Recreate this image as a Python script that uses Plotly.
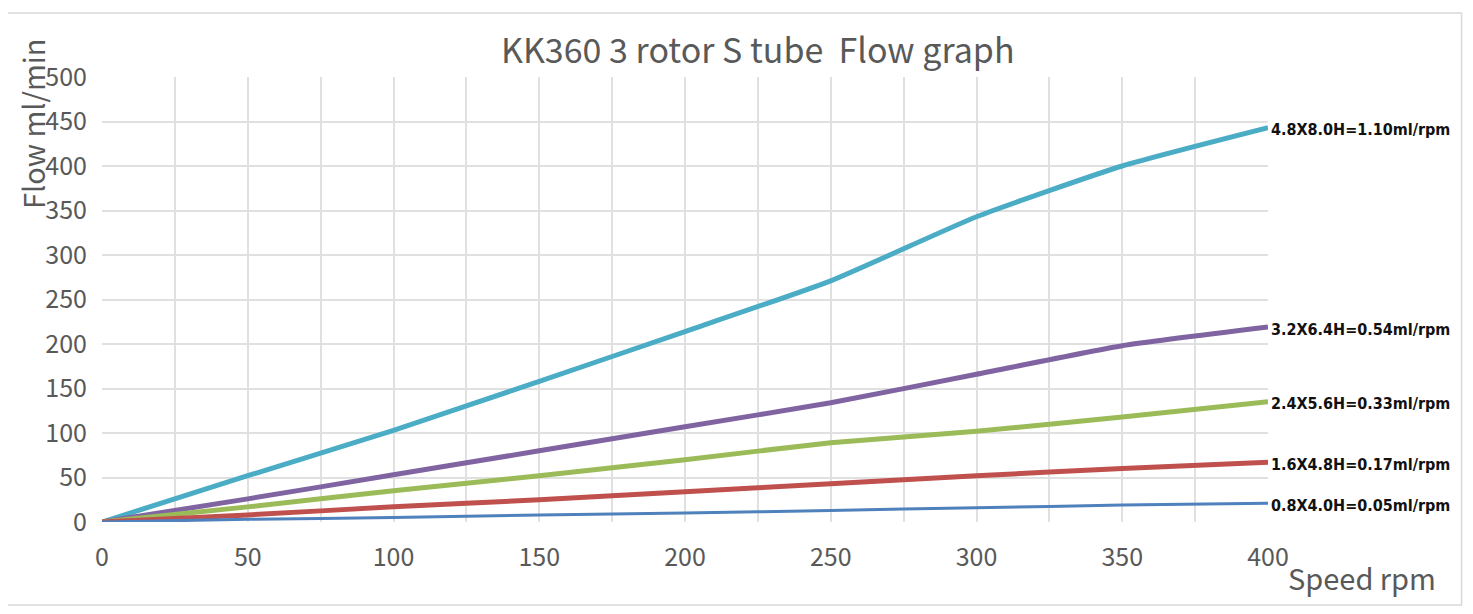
import plotly.graph_objects as go

speed = [0, 50, 100, 150, 200, 250, 300, 350, 400]

flow_48 = [0, 52, 103, 158, 214, 271, 343, 400, 443]
flow_32 = [0, 26, 53, 80, 107, 134, 166, 198, 219]
flow_24 = [0, 17, 35, 52, 70, 89, 102, 118, 135]
flow_16 = [0, 8, 17, 25, 34, 43, 52, 60, 67]
flow_08 = [0, 3, 5, 8, 10, 13, 16, 19, 21]

series_names = [
    "4.8X8.0H=1.10ml/rpm",
    "3.2X6.4H=0.54ml/rpm",
    "2.4X5.6H=0.33ml/rpm",
    "1.6X4.8H=0.17ml/rpm",
    "0.8X4.0H=0.05ml/rpm",
]
series_values = [flow_48, flow_32, flow_24, flow_16, flow_08]
colors = ["#4bacc6", "#8064a2", "#9bbb59", "#c0504d", "#4f81bd"]
widths = [5, 5, 5, 5, 3]

FONT = "Noto Sans CJK SC"
GRID = "#e0e0e0"

fig = go.Figure()
for name, vals, color, w in zip(series_names, series_values, colors, widths):
    fig.add_trace(go.Scatter(
        x=speed, y=vals, mode="lines", name=name,
        line=dict(color=color, width=w, shape="spline", smoothing=0.5),
    ))
    fig.add_annotation(
        x=speed[-1], y=vals[-1], text=f"<b>{name}</b>", showarrow=False,
        xanchor="left", xshift=1, yshift=-2,
        font=dict(family="DejaVu Sans Condensed", size=16, color="#111111"),
    )

fig.update_xaxes(
    range=[0, 400], dtick=50, showgrid=True, gridcolor=GRID, gridwidth=1.5,
    minor=dict(dtick=25, showgrid=True, gridcolor=GRID, gridwidth=1.5),
    zeroline=False, showline=False, ticks="", ticklabelstandoff=18,
    tickfont=dict(family=FONT, size=25, color="#595959"),
)
fig.update_yaxes(
    range=[0, 500], dtick=50, showgrid=True, gridcolor=GRID, gridwidth=1.5,
    zeroline=False, showline=False, ticks="", ticklabelstandoff=14,
    tickfont=dict(family=FONT, size=25, color="#595959"),
)

fig.add_annotation(
    xref="paper", yref="paper", x=-0.06, y=1.09, text="Flow ml/min", textangle=-90,
    showarrow=False, xanchor="center", yanchor="top",
    font=dict(family=FONT, size=29, color="#595959"),
)
fig.add_annotation(
    xref="paper", yref="paper", x=1.146, y=-0.072, text="Speed rpm",
    showarrow=False, xanchor="right", yanchor="top",
    font=dict(family=FONT, size=29, color="#595959"),
)

fig.add_shape(
    type="rect", xref="paper", yref="paper",
    x0=-0.082, x1=1.166, y0=-0.1865, y1=1.144,
    line=dict(color="#d9d9d9", width=1.5),
)

fig.update_layout(
    width=1473, height=614,
    title=dict(
        text="KK360 3 rotor S tube  Flow graph", x=0.509, xanchor="center",
        y=0.93, yanchor="middle",
        font=dict(family=FONT, size=34, color="#595959"),
    ),
    showlegend=False,
    plot_bgcolor="white", paper_bgcolor="white",
    margin=dict(l=94, r=213, t=69, b=100),
)

fig.write_html("out.html")
